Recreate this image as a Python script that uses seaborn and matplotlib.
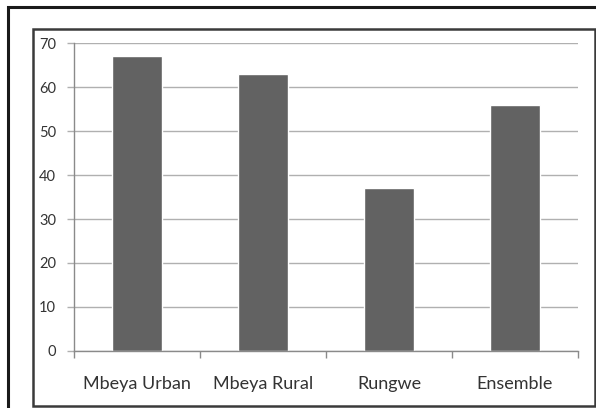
import matplotlib
matplotlib.use("Agg")
import matplotlib.pyplot as plt
import seaborn as sns
import pandas as pd
from matplotlib.patches import Rectangle

categories = ["Mbeya Urban", "Mbeya Rural", "Rungwe", "Ensemble"]
values = [67, 63, 37, 56]
yticks = [0, 10, 20, 30, 40, 50, 60, 70]

sns.set_theme(style="white")
plt.rcParams['font.family'] = ['Lato', 'DejaVu Sans']

W, H = 596, 408
fig = plt.figure(figsize=(W / 100, H / 100), dpi=100)
fig.patch.set_facecolor("white")

# outer and inner frames (figure coords)
def fx(x): return x / W
def fy(y): return 1 - y / H

fig.add_artist(Rectangle((fx(8), fy(412)), fx(600) - fx(8), fy(7) - fy(412),
                         transform=fig.transFigure, fill=False, edgecolor="#1a1a1a", linewidth=2.2))
fig.add_artist(Rectangle((fx(33), fy(406)), fx(595) - fx(33), fy(29) - fy(406),
                         transform=fig.transFigure, fill=False, edgecolor="#3a3a3a", linewidth=1.8))

ax = fig.add_axes([fx(74), fy(351), fx(578) - fx(74), fy(43) - fy(351)])
df = pd.DataFrame({"cat": categories, "val": values})
sns.barplot(data=df, x="cat", y="val", color="#626262", width=0.40, ax=ax, saturation=1)

ax.set_ylim(0, 70)
ax.set_xlim(-0.5, len(categories) - 0.5)
ax.set_yticks(yticks)
ax.set_yticklabels([str(t) for t in yticks], fontsize=10.5, color="#333333")
ax.yaxis.grid(True, color="#b0b0b0", linewidth=1)
ax.set_axisbelow(True)
ax.set_xlabel("")
ax.set_ylabel("")

# x ticks at category boundaries
ax.set_xticks([i - 0.5 for i in range(len(categories) + 1)], minor=False)
ax.set_xticklabels([""] * (len(categories) + 1))
ax.set_xticks(range(len(categories)), minor=True)
ax.set_xticklabels(categories, minor=True, fontsize=13, color="#333333")
ax.tick_params(axis="x", which="major", direction="out", length=5, color="#8a8a8a", width=1, bottom=True)
ax.tick_params(axis="x", which="minor", length=0, pad=18, bottom=True)
ax.tick_params(axis="y", direction="out", length=5, color="#b0b0b0", width=1, left=True, pad=8)

for s in ["top", "right"]:
    ax.spines[s].set_visible(False)
ax.spines["left"].set_color("#8a8a8a")
ax.spines["bottom"].set_color("#8a8a8a")
ax.spines["left"].set_linewidth(1)
ax.spines["bottom"].set_linewidth(1)

fig.savefig("out.png", dpi=100, facecolor="white")
